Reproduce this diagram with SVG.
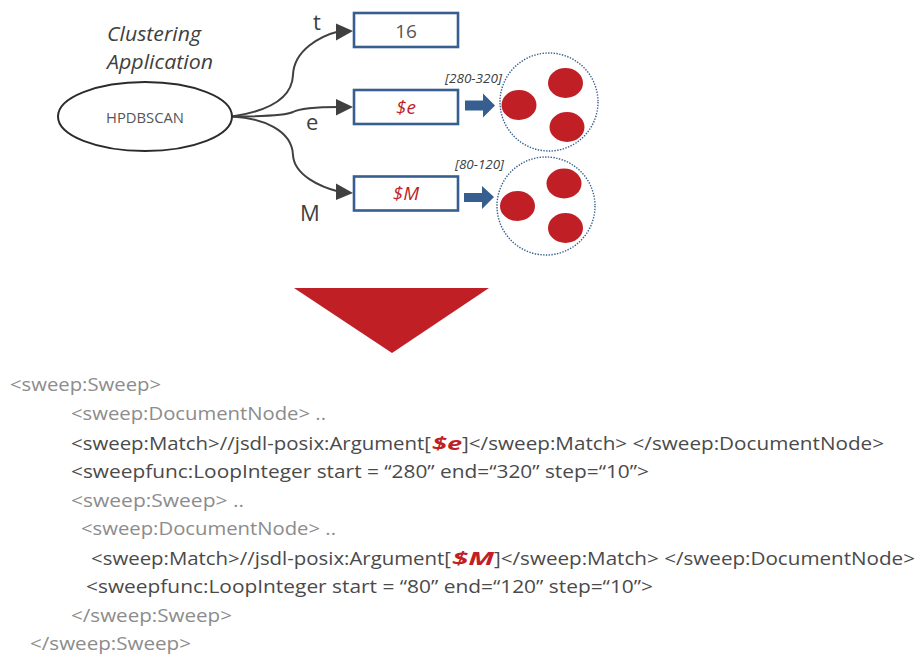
<svg xmlns="http://www.w3.org/2000/svg" width="917" height="655" viewBox="0 0 917 655">
<style>
text{font-family:"Open Sans","Noto Sans","Liberation Sans",sans-serif}
.x{font-size:18.5px}
.g{fill:#8c8c8c}
.d{fill:#4a4a4a}
.r{fill:#c01f26;font-weight:700;font-style:italic}
.box{fill:#fff;stroke:#365f8f;stroke-width:2.6}
.c{fill:none;stroke:#404040;stroke-width:2}
.ah{fill:#404040}
.dot{fill:none;stroke:#365f8f;stroke-width:1.4;stroke-dasharray:1.4 1.4}
.blob{fill:#c01f26}
.arr{fill:#365f8f}
.lab{font-size:22px;fill:#404040}
.rng{font-size:12px;font-style:italic;fill:#404040}
.val{font-size:19px;font-style:italic;fill:#c01f26}
</style>
<rect width="917" height="655" fill="#fff"/>
<g id="connectors">
<path class="c" d="M232 116.500C262 112 292 102 293 75C294 50 320 36 340 31"/>
<path class="ah" d="M353 31L336 23.500V40.500Z"/>
<path class="c" d="M232 116.500C262 116.500 285 116 293 112C300 108 320 107 340 107"/>
<path class="ah" d="M353 107L336 99V115.500Z"/>
<path class="c" d="M232 116.500C262 118 292 130 293 155C294 175 320 187 340 192"/>
<path class="ah" d="M353 193L336 183.500V200Z"/>
</g>
<g id="title"><text x="107" y="41" font-size="20" font-style="italic" fill="#404040" textLength="94" lengthAdjust="spacingAndGlyphs">Clustering</text>
<text x="107" y="69" font-size="20" font-style="italic" fill="#404040" textLength="106" lengthAdjust="spacingAndGlyphs">Application</text></g>
<g id="node-hpdbscan"><ellipse cx="145" cy="116.500" rx="87" ry="34.500" fill="#fff" stroke="#2b2b2b" stroke-width="2"/>
<text x="145" y="123" text-anchor="middle" font-size="14" fill="#555" textLength="78" lengthAdjust="spacingAndGlyphs">HPDBSCAN</text></g>
<g id="label-t"><text class="lab" x="313" y="30">t</text></g>
<g id="label-e"><text class="lab" x="306" y="130">e</text></g>
<g id="label-M"><text class="lab" x="300" y="221">M</text></g>
<g id="node-16"><rect class="box" x="354" y="13" width="104" height="34"/><text x="406" y="38" text-anchor="middle" font-size="19" fill="#555">16</text></g>
<g id="node-e"><rect class="box" x="354" y="90" width="104" height="34"/><text class="val" x="406" y="114" text-anchor="middle">$e</text></g>
<g id="node-M"><rect class="box" x="354" y="176.500" width="104" height="34"/><text class="val" x="406" y="200" text-anchor="middle">$M</text></g>
<g id="cluster-1">
<text class="rng" x="445" y="83" textLength="57" lengthAdjust="spacingAndGlyphs">[280-320]</text>
<path class="arr" d="M465 100.500H483V93.500L495 105.500L483 117.500V110.500H465Z"/>
<circle class="dot" cx="549" cy="102" r="49"/>
<ellipse class="blob" cx="519" cy="105" rx="17.500" ry="15"/>
<ellipse class="blob" cx="565.500" cy="83" rx="17.500" ry="15"/>
<ellipse class="blob" cx="567" cy="127" rx="17.500" ry="15"/>
</g>
<g id="cluster-2">
<text class="rng" x="455" y="169" textLength="49" lengthAdjust="spacingAndGlyphs">[80-120]</text>
<path class="arr" d="M464 193H482V186L494 197L482 209V202H464Z"/>
<circle class="dot" cx="546" cy="206" r="49"/>
<ellipse class="blob" cx="517.500" cy="206" rx="17.500" ry="15"/>
<ellipse class="blob" cx="564" cy="183.500" rx="17.500" ry="15"/>
<ellipse class="blob" cx="565.500" cy="228" rx="17.500" ry="15"/>
</g>
<g id="big-triangle"><path d="M294 288H489L392 353Z" fill="#c01f26"/></g>
<g id="code">
<text class="x g" x="10" y="391" textLength="151" lengthAdjust="spacingAndGlyphs">&lt;sweep:Sweep&gt;</text>
<text class="x g" x="71" y="420" textLength="255" lengthAdjust="spacingAndGlyphs">&lt;sweep:DocumentNode&gt; ..</text>
<text class="x d" x="71" y="450" textLength="360" lengthAdjust="spacingAndGlyphs">&lt;sweep:Match&gt;//jsdl-posix:Argument[</text>
<text class="x r" x="432" y="450" textLength="30" lengthAdjust="spacingAndGlyphs">$e</text>
<text class="x d" x="462" y="450" textLength="422" lengthAdjust="spacingAndGlyphs">]&lt;/sweep:Match&gt; &lt;/sweep:DocumentNode&gt;</text>
<text class="x d" x="71" y="478" textLength="578" lengthAdjust="spacingAndGlyphs">&lt;sweepfunc:LoopInteger start = “280” end=“320” step=“10”&gt;</text>
<text class="x g" x="71" y="507" textLength="173" lengthAdjust="spacingAndGlyphs">&lt;sweep:Sweep&gt;  ..</text>
<text class="x g" x="81" y="535" textLength="255" lengthAdjust="spacingAndGlyphs">&lt;sweep:DocumentNode&gt; ..</text>
<text class="x d" x="91" y="565" textLength="360" lengthAdjust="spacingAndGlyphs">&lt;sweep:Match&gt;//jsdl-posix:Argument[</text>
<text class="x r" x="452" y="565" textLength="42" lengthAdjust="spacingAndGlyphs">$M</text>
<text class="x d" x="494" y="565" textLength="421" lengthAdjust="spacingAndGlyphs">]&lt;/sweep:Match&gt; &lt;/sweep:DocumentNode&gt;</text>
<text class="x d" x="86" y="593" textLength="567" lengthAdjust="spacingAndGlyphs">&lt;sweepfunc:LoopInteger start = “80” end=“120” step=“10”&gt;</text>
<text class="x g" x="71" y="622" textLength="161" lengthAdjust="spacingAndGlyphs">&lt;/sweep:Sweep&gt;</text>
<text class="x g" x="30" y="650" textLength="161" lengthAdjust="spacingAndGlyphs">&lt;/sweep:Sweep&gt;</text>
</g>
</svg>
